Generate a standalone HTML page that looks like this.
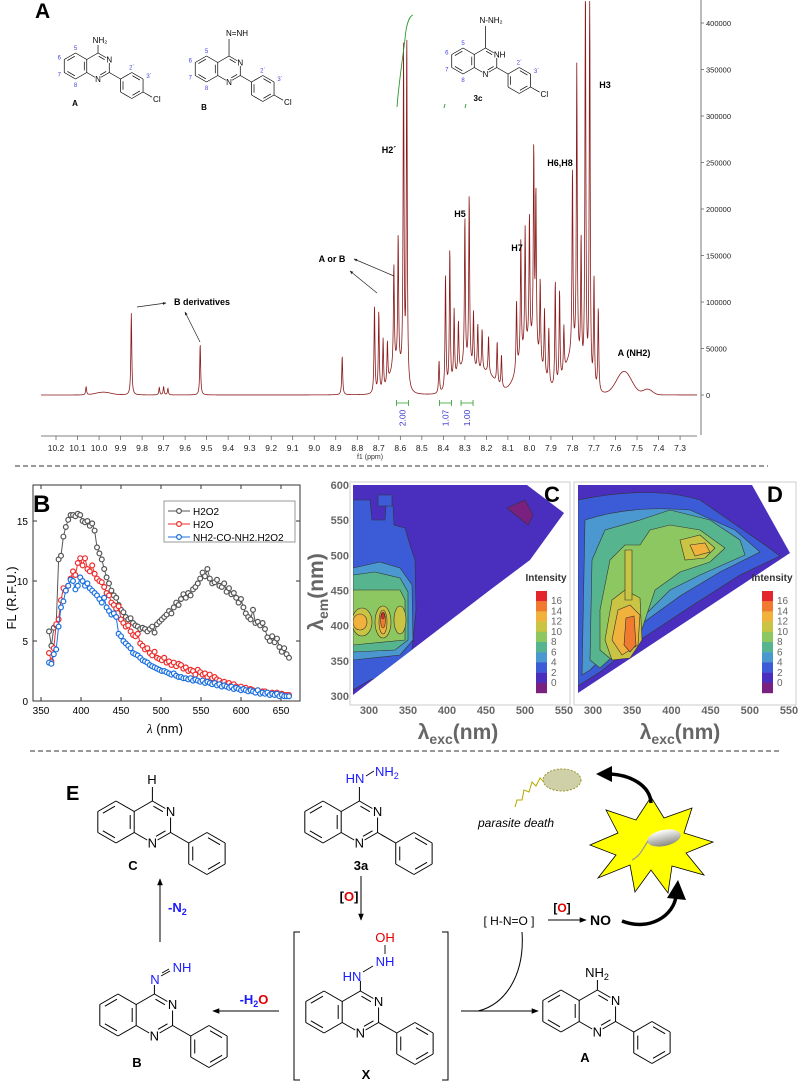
<!DOCTYPE html>
<html><head><meta charset="utf-8"><style>
html,body{margin:0;padding:0;background:#fff;}
svg{display:block;font-family:"Liberation Sans",Arial,sans-serif;}
</style></head><body>
<svg id="fig" width="798" height="1082" viewBox="0 0 798 1082" xmlns="http://www.w3.org/2000/svg">
<defs>
<clipPath id="clipC"><polygon points="353,485 527,485 564,513 530,560 490,590 353,695"/></clipPath>
<clipPath id="clipD"><polygon points="578,485 752,485 790,553 578,693"/></clipPath>
<linearGradient id="pill" x1="0" y1="0" x2="0" y2="1"><stop offset="0" stop-color="#ffffff"/><stop offset="1" stop-color="#8a8a80"/></linearGradient>
<marker id="ah" viewBox="0 0 10 10" refX="9" refY="5" markerWidth="7" markerHeight="7" orient="auto"><path d="M0,1 L10,5 L0,9 Z" fill="#000"/></marker>
<marker id="ahs" viewBox="0 0 10 10" refX="9" refY="5" markerWidth="5" markerHeight="5" orient="auto"><path d="M0,1 L10,5 L0,9 Z" fill="#222"/></marker>
</defs>

<text x="35" y="18" font-size="21" font-weight="bold">A</text>
<line x1="15" y1="466" x2="768" y2="466" stroke="#333" stroke-dasharray="5,3"/>
<line x1="30" y1="751" x2="779" y2="751" stroke="#333" stroke-dasharray="5,3"/>

<g id="nmr"></g>
<g id="structs"></g>
<g id="panelB"></g>

<g>
<rect x="350" y="482" width="220" height="223" fill="none" stroke="#ccc"/>
<g clip-path="url(#clipC)" stroke="#333" stroke-width="0.6">
<rect x="350" y="480" width="220" height="230" fill="#4a2fbf"/>
<path fill="#3c5bd6" d="M353,500 L370,500 L372,520 L385,520 L386,505 L393,505 L394,525 L405,528 L410,545 L415,560 L416,610 L412,650 L400,660 L390,675 L370,680 L353,690 Z"/>
<path fill="#3c5bd6" d="M378,495 L392,495 L392,506 L378,506 Z"/>
<path fill="#4a98cf" d="M353,568 L380,562 L400,568 L412,585 L413,640 L400,655 L353,660 Z"/>
<path fill="#56b48e" d="M353,575 L375,572 L400,578 L408,592 L408,640 L395,650 L353,652 Z"/>
<path fill="#8cc761" d="M353,590 L400,590 L405,600 L405,640 L353,645 Z"/>
<ellipse fill="#c9c443" cx="362" cy="622" rx="10" ry="14"/>
<ellipse fill="#c9c443" cx="383" cy="622" rx="8" ry="16"/>
<ellipse fill="#c9c443" cx="400" cy="620" rx="6" ry="14"/>
<ellipse fill="#f0b23d" cx="360" cy="622" rx="7" ry="8"/>
<ellipse fill="#f0b23d" cx="383" cy="622" rx="4" ry="12"/>
<ellipse fill="#f07b30" cx="383" cy="620" rx="2.5" ry="8"/>
<ellipse fill="#e3262b" cx="383" cy="616" rx="1.5" ry="3"/>
<path fill="#7a2080" d="M507,508 L525,500 L533,515 L528,525 Z"/>
</g>
<text x="552" y="502" font-size="22" font-weight="bold" text-anchor="middle">C</text>
</g>

<g>
<rect x="574" y="482" width="222" height="223" fill="none" stroke="#ccc"/>
<g clip-path="url(#clipD)" stroke="#333" stroke-width="0.6">
<rect x="570" y="480" width="230" height="230" fill="#4a2fbf"/>
<path fill="#3c5bd6" d="M578,500 Q650,485 700,500 L765,545 L780,556 L740,575 L690,607 L640,640 L600,672 L578,686 Z"/>
<path fill="#4a98cf" d="M585,520 Q630,505 690,510 L735,530 L760,552 L720,572 L680,596 L640,625 L610,650 L590,670 L582,675 Z"/>
<path fill="#56b48e" d="M592,560 L605,530 L640,520 L670,510 L710,520 L740,540 L745,555 L700,575 L670,590 L640,620 L620,650 L600,668 L590,660 Z"/>
<path fill="#8cc761" d="M600,610 L610,560 L625,545 L640,545 L650,530 L670,525 L700,530 L725,548 L710,562 L680,572 L655,590 L645,620 L635,650 L612,660 L600,650 Z"/>
<path fill="#c9c443" d="M680,540 L700,535 L715,548 L705,558 L685,560 Z"/>
<path fill="#c9c443" d="M605,640 L612,600 L625,590 L640,598 L642,640 L630,658 L612,660 Z"/>
<path fill="#c9c443" d="M625,550 L632,550 L632,600 L625,600 Z"/>
<path fill="#f0b23d" d="M690,545 L705,543 L710,552 L695,556 Z"/>
<path fill="#f0b23d" d="M612,640 L618,610 L630,605 L640,615 L638,645 L622,655 Z"/>
<path fill="#f07b30" d="M624,645 L626,618 L634,616 L636,645 L630,652 Z"/>
</g>
<text x="775" y="502" font-size="22" font-weight="bold" text-anchor="middle">D</text>
</g>
<g id="cdaxes"></g>

<g id="scheme">
<text x="66" y="800" font-size="20" font-weight="bold">E</text>
<text x="133" y="870" font-size="13" font-weight="bold" text-anchor="middle">C</text>
<text x="361" y="870" font-size="13" font-weight="bold" text-anchor="middle">3a</text>
<text x="366" y="1079" font-size="13" font-weight="bold" text-anchor="middle">X</text>
<text x="137" y="1067" font-size="13" font-weight="bold" text-anchor="middle">B</text>
<text x="585" y="1062" font-size="13" font-weight="bold" text-anchor="middle">A</text>
<text x="152" y="784" font-size="13" text-anchor="middle">H</text>
<text x="355" y="783" font-size="13" fill="#1a1aff" text-anchor="middle">HN</text>
<line x1="366" y1="776" x2="374" y2="771" stroke="#000" stroke-width="0.9"/>
<text x="375" y="776" font-size="13" fill="#1a1aff">NH<tspan font-size="9" dy="3">2</tspan></text>
<line x1="359.4" y1="801" x2="359.4" y2="787" stroke="#000" stroke-width="1"/>
<line x1="152.4" y1="801" x2="152.4" y2="787" stroke="#000" stroke-width="1"/>
<line x1="360.4" y1="991" x2="360.4" y2="981" stroke="#000" stroke-width="1"/>
<text x="352" y="981" font-size="13" fill="#1a1aff" text-anchor="middle">HN</text>
<line x1="363" y1="972" x2="373" y2="966" stroke="#000" stroke-width="0.9"/>
<text x="385" y="966" font-size="13" fill="#1a1aff" text-anchor="middle">NH</text>
<line x1="385" y1="954" x2="385" y2="945" stroke="#000" stroke-width="0.9"/>
<text x="385" y="942" font-size="13" fill="#e00000" text-anchor="middle">OH</text>
<path d="M300,932 H294 V1080 H300 M442,932 H448 V1080 H442" fill="none" stroke="#000" stroke-width="1"/>
<line x1="154.4" y1="994" x2="154.4" y2="985" stroke="#000" stroke-width="1"/>
<text x="155" y="984" font-size="13" fill="#1a1aff" text-anchor="middle">N</text>
<line x1="161" y1="976" x2="170" y2="971" stroke="#000" stroke-width="0.9"/>
<line x1="162" y1="973" x2="169" y2="969" stroke="#000" stroke-width="0.9"/>
<text x="182" y="972" font-size="13" fill="#1a1aff" text-anchor="middle">NH</text>
<line x1="597.4" y1="990" x2="597.4" y2="980" stroke="#000" stroke-width="1"/>
<text x="597" y="977" font-size="13" text-anchor="middle">NH<tspan font-size="9" dy="3">2</tspan></text>
<line x1="361" y1="876" x2="361" y2="920" stroke="#000" marker-end="url(#ah)"/>
<text x="349" y="901" font-size="13" font-weight="bold" text-anchor="middle">[<tspan fill="#e00000">O</tspan>]</text>
<line x1="279" y1="1011" x2="213" y2="1011" stroke="#000" marker-end="url(#ah)"/>
<text x="254" y="1004" font-size="13" font-weight="bold" text-anchor="middle" fill="#1a1aff">-H<tspan font-size="9" dy="3">2</tspan><tspan dy="-3" fill="#e00000">O</tspan></text>
<line x1="160" y1="942" x2="160" y2="879" stroke="#000" marker-end="url(#ah)"/>
<text x="168" y="912" font-size="13" font-weight="bold" fill="#1a1aff">-N<tspan font-size="9" dy="3">2</tspan></text>
<line x1="461" y1="1011" x2="538" y2="1011" stroke="#000" marker-end="url(#ah)"/>
<path d="M522,932 C525,975 505,1005 478,1011" fill="none" stroke="#000"/>
<text x="509" y="925" font-size="12" text-anchor="middle">[ H-N=O ]</text>
<text x="562" y="912" font-size="12" font-weight="bold" text-anchor="middle">[<tspan fill="#e00000">O</tspan>]</text>
<line x1="548" y1="920" x2="586" y2="920" stroke="#000" marker-end="url(#ah)"/>
<text x="590" y="925" font-size="14" font-weight="bold">NO</text>
<path d="M622,921 C650,932 674,915 676,896" fill="none" stroke="#000" stroke-width="3.5"/>
<path d="M667,898 L678,880 L686,900 Z" fill="#000"/>
<polygon points="651,797 664,818 692,808 684,833 713,842 686,853 704,875 672,866 668,893 651,870 635,892 630,865 598,878 616,855 590,845 618,833 606,810 636,820" fill="#ffff00" stroke="#000" stroke-width="0.8"/>
<ellipse cx="664" cy="838" rx="17" ry="8" fill="url(#pill)" transform="rotate(-12 664 838)"/>
<path d="M648,841 C642,850 640,856 632,860" fill="none" stroke="#999" stroke-width="1.2"/>
<path d="M651,803 C650,785 630,775 610,774" fill="none" stroke="#000" stroke-width="3.5"/>
<path d="M612,766 L596,774 L612,782 Z" fill="#000"/>
<ellipse cx="562" cy="780" rx="19" ry="11" fill="#cfcfa8" stroke="#9a9a30" stroke-dasharray="2,1.5"/>
<path d="M544,782 L540,778 L536,786 L532,782 L529,792 L524,790 L522,800 L517,800 L515,807" fill="none" stroke="#b5a800" stroke-width="1"/>
<text x="478" y="827" font-size="12" font-style="italic">parasite death</text>
</g>
</svg>

<script>
const NS='http://www.w3.org/2000/svg';
function mk(parent, tag, attrs, name){
  const e=document.createElementNS(NS,tag);
  for(const k in attrs) e.setAttribute(k,attrs[k]);
  
  
  parent.appendChild(e);
  return e;
}
function txt(parent, x, y, s, size, extra, name){
  const a=Object.assign({x:x,y:y,'font-size':size},extra||{});
  const e=mk(parent,'text',a,name);
  e.textContent=s;
  return e;
}
function tsp(parent, s, extra){
  const t=document.createElementNS(NS,'tspan');
  for(const k in (extra||{})) t.setAttribute(k,extra[k]);
  t.textContent=s;
  parent.appendChild(t);
  return t;
}

/* ---------------- NMR panel A ---------------- */
const nmrPeakPpm = [10.06,9.85,9.72,9.70,9.68,9.53,8.87,8.72,8.70,8.68,8.66,8.63,8.61,8.585,8.57,8.42,8.39,8.37,8.35,8.33,8.30,8.28,8.26,8.24,8.22,8.19,8.15,8.13,8.06,8.04,8.02,8.00,7.98,7.97,7.95,7.93,7.91,7.88,7.86,7.84,7.80,7.78,7.76,7.74,7.72,7.70,7.68];
const nmrPeakHeight = [9000,88000,8000,9000,7000,55000,42000,95000,88000,55000,45000,110000,140000,355000,375000,35000,125000,148000,75000,55000,160000,185000,60000,50000,45000,40000,45000,35000,75000,130000,130000,140000,215000,170000,90000,70000,60000,115000,100000,50000,200000,315000,140000,440000,440000,120000,90000];
const nmrBroadPpm = [9.98,8.62,8.30,8.20,8.00,7.80,7.56,7.45];
const nmrBroadHeight = [3000,30000,28000,22000,50000,40000,25000,6000];
const nmrBroadWidth = [0.05,0.04,0.06,0.06,0.07,0.05,0.05,0.03];
const nmrTicks = [10.2,10.1,10.0,9.9,9.8,9.7,9.6,9.5,9.4,9.3,9.2,9.1,9.0,8.9,8.8,8.7,8.6,8.5,8.4,8.3,8.2,8.1,8.0,7.9,7.8,7.7,7.6,7.5,7.4,7.3];
const nmrYTicks = [0,50000,100000,150000,200000,250000,300000,350000,400000];
const nmrIntegrals = ['2.00','1.07','1.00'];
const nmrIntegralPpm = [8.59,8.39,8.29];

(function(){
  const g=document.getElementById('nmr');
  const px=p=>56+(10.2-p)*215.2;
  const py=v=>395-v/50000*46.5;
  let d='';
  for(let p=10.27;p>=7.22;p-=0.0012){
    let v=0;
    for(let i=0;i<nmrPeakPpm.length;i++){const dx=(p-nmrPeakPpm[i])/0.0025;v+=nmrPeakHeight[i]/(1+dx*dx);}
    for(let i=0;i<nmrBroadPpm.length;i++){const dx=(p-nmrBroadPpm[i])/nmrBroadWidth[i];v+=nmrBroadHeight[i]*Math.exp(-dx*dx);}
    const y=Math.max(py(v),1);
    d+=(d?'L':'M')+px(p).toFixed(2)+','+y.toFixed(2);
  }
  mk(g,'path',{d:d,fill:'none',stroke:'#8b1a1a','stroke-width':0.8},'nmr-trace');
  mk(g,'line',{x1:41,y1:436,x2:697,y2:436,stroke:'#555','stroke-width':0.8},'nmr-x-axis');
  nmrTicks.forEach(t=>{
    mk(g,'line',{x1:px(t),y1:436,x2:px(t),y2:440,stroke:'#555','stroke-width':0.7},'nmr-x-tick');
    txt(g,px(t),451,t.toFixed(1),8.5,{'text-anchor':'middle',fill:'#222'},'nmr-x-tick-label');
  });
  txt(g,370,459,'f1 (ppm)',7,{'text-anchor':'middle',fill:'#333'},'nmr-x-axis-title');
  mk(g,'line',{x1:701,y1:0,x2:701,y2:435,stroke:'#555','stroke-width':0.8},'nmr-y-axis');
  nmrYTicks.forEach(t=>{
    mk(g,'line',{x1:701,y1:py(t),x2:704,y2:py(t),stroke:'#555','stroke-width':0.7},'nmr-y-tick');
    txt(g,706,py(t)+3,String(t),7.5,{fill:'#222'},'nmr-y-tick-label');
  });
  nmrIntegrals.forEach((s,i)=>{
    const x=px(nmrIntegralPpm[i]);
    mk(g,'path',{d:'M'+(x-6)+',403 L'+(x+6)+',403 M'+(x-6)+',400 V406 M'+(x+6)+',400 V406',stroke:'#2a9a2a',fill:'none','stroke-width':0.8},'integral-bracket');
    txt(g,0,0,s,8.5,{fill:'#3333cc','text-anchor':'middle',transform:'translate('+(x+3)+',418) rotate(-90)'},'integral-value');
  });
  mk(g,'path',{d:'M397,107 C399,80 404,50 406,30 C408,20 410,16 413,15',fill:'none',stroke:'#2a9a2a','stroke-width':0.9},'integral-curve');
  mk(g,'path',{d:'M445,104 L444,108 M466,104 L465,108',fill:'none',stroke:'#2a9a2a','stroke-width':0.9},'integral-marks');
  const lab=[['H2´',389,153],['H5',460,217],['H7',517,251],['H6,H8',560,166],['H3',605,88],['A or B',332,262],['B derivatives',202,305],['A (NH2)',634,356]];
  lab.forEach(l=>txt(g,l[1],l[2],l[0],9,{'font-weight':'bold','text-anchor':'middle'},'peak-label'));
  const arr=[[137,307,166,303],[200,342,185,312],[377,293,350,271],[394,276,354,259]];
  arr.forEach(a=>mk(g,'line',{x1:a[0],y1:a[1],x2:a[2],y2:a[3],stroke:'#222','stroke-width':0.7,'marker-end':'url(#ahs)'},'annotation-arrow'));
})();

/* ---------------- Chemical structures ---------------- */
function quin(cx,cy,b,opt){
  const g=document.getElementById('structs');
  const s3=Math.sqrt(3);
  const hex=(x,y)=>{const v=[];for(let k=0;k<6;k++){const t=(-90+60*k)*Math.PI/180;v.push([x+b*Math.cos(t),y+b*Math.sin(t)]);}return v;};
  const B=hex(cx,cy), P=hex(cx+s3*b,cy);
  const ipso=[P[2][0]+b*s3/2,P[2][1]+b/2];
  const pc=[ipso[0]+b*s3/2,ipso[1]+b/2];
  const F=hex(pc[0],pc[1]);
  const sw=opt.sw||1;
  const line=(a,c,sa,sc)=>{
    const dx=c[0]-a[0],dy=c[1]-a[1],L=Math.hypot(dx,dy);
    const x1=a[0]+dx/L*(sa||0),y1=a[1]+dy/L*(sa||0),x2=c[0]-dx/L*(sc||0),y2=c[1]-dy/L*(sc||0);
    mk(g,'line',{x1:x1,y1:y1,x2:x2,y2:y2,stroke:'#000','stroke-width':sw},'bond');
  };
  const inner=(a,c,ctr,sa,sc)=>{
    const f=0.78;
    let p=[ctr[0]+(a[0]-ctr[0])*f,ctr[1]+(a[1]-ctr[1])*f],q=[ctr[0]+(c[0]-ctr[0])*f,ctr[1]+(c[1]-ctr[1])*f];
    const m=[(p[0]+q[0])/2,(p[1]+q[1])/2];
    p=[m[0]+(p[0]-m[0])*0.85,m[1]+(p[1]-m[1])*0.85];q=[m[0]+(q[0]-m[0])*0.85,m[1]+(q[1]-m[1])*0.85];
    line(p,q,sa||0,sc||0);
  };
  const gap=opt.gap;
  for(let k=0;k<6;k++) line(B[k],B[(k+1)%6]);
  [[3,4],[5,0],[1,2]].forEach(e=>inner(B[e[0]],B[e[1]],[cx,cy]));
  const Pc=[cx+s3*b,cy];
  line(P[5],P[0]);
  line(P[0],P[1],0,gap); line(P[1],P[2],gap,0); line(P[2],P[3],0,gap); line(P[3],P[4],gap,0);
  inner(P[0],P[1],Pc,0,gap*0.5); inner(P[2],P[3],Pc,0,gap*0.5);
  line(P[2],ipso);
  for(let k=0;k<6;k++) line(F[k],F[(k+1)%6]);
  [[0,1],[2,3],[4,5]].forEach(e=>inner(F[e[0]],F[e[1]],pc));
  txt(g,P[1][0]-(opt.n3?opt.fs*0.36:0),P[1][1]+opt.fs*0.36,opt.n3||'N',opt.fs,{'text-anchor':opt.n3?'start':'middle'},'atom-n3');
  txt(g,P[3][0],P[3][1]+opt.fs*0.36,'N',opt.fs,{'text-anchor':'middle'},'atom-n1');
  if(opt.cl){
    const c2=[F[2][0]+b*s3/2*0.8,F[2][1]+b/2*0.8];
    line(F[2],c2,0,0);
    txt(g,c2[0]+1,c2[1]+opt.fs*0.6,'Cl',opt.fs,{},'atom-cl');
  }
  if(opt.nums){
    const st={fill:'#4444dd','text-anchor':'middle'};
    txt(g,B[0][0],B[0][1]-3,'5',6,st,'atom-number');
    txt(g,B[5][0]-5,B[5][1],'6',6,st,'atom-number');
    txt(g,B[4][0]-5,B[4][1]+4,'7',6,st,'atom-number');
    txt(g,B[3][0],B[3][1]+8,'8',6,st,'atom-number');
    txt(g,F[0][0],F[0][1]-3,'2´',6,st,'atom-number');
    txt(g,F[1][0]+6,F[1][1]-1,'3´',6,st,'atom-number');
  }
  return {C4:P[0]};
}
(function(){
  const g=document.getElementById('structs');
  let r=quin(75.5,66,13,{fs:8,gap:3.5,sw:0.7,cl:true,nums:true});
  mk(g,'line',{x1:r.C4[0],y1:r.C4[1],x2:r.C4[0],y2:r.C4[1]-8,stroke:'#000','stroke-width':0.7},'bond');
  txt(g,r.C4[0]+2,r.C4[1]-10,'NH₂',8,{'text-anchor':'middle'},'amine-label');
  txt(g,75,106,'A',8,{'font-weight':'bold','text-anchor':'middle'},'structure-a-label');
  r=quin(206.5,69,13,{fs:8,gap:3.5,sw:0.7,cl:true,nums:true});
  mk(g,'line',{x1:r.C4[0],y1:r.C4[1],x2:r.C4[0],y2:r.C4[1]-17,stroke:'#000','stroke-width':0.7},'bond');
  txt(g,r.C4[0]-3,r.C4[1]-20,'N=NH',8,{},'diazene-label');
  txt(g,204,110,'B',8,{'font-weight':'bold','text-anchor':'middle'},'structure-b-label');
  r=quin(463,61,13,{fs:8,gap:3.5,sw:0.7,cl:true,nums:true,n3:'NH'});
  mk(g,'line',{x1:r.C4[0],y1:r.C4[1],x2:r.C4[0],y2:r.C4[1]-22,stroke:'#000','stroke-width':0.7},'bond');
  txt(g,r.C4[0]-6,r.C4[1]-25,'N-NH₂',8,{},'hydrazone-label');
  txt(g,478,101,'3c',8,{'font-weight':'bold','text-anchor':'middle'},'structure-3c-label');
  quin(116,822,21,{fs:13,gap:6,sw:1});
  quin(323,822,21,{fs:13,gap:6,sw:1});
  quin(324,1012,21,{fs:13,gap:6,sw:1});
  quin(118,1015,21,{fs:13,gap:6,sw:1});
  quin(561,1011,21,{fs:13,gap:6,sw:1});
})();

/* ---------------- Panel B ---------------- */
const wavelengths = [];
for(let w=360; w<=660; w+=3) wavelengths.push(w);
const seriesH2O2 = [5.8,4.6,6.1,6.3,11.8,12.1,13.7,14.5,15.1,15.5,15.5,15.4,15.6,15.5,15.0,14.9,15.0,14.6,14.8,14.2,12.8,12.3,11.8,11.0,10.3,9.8,9.2,8.8,8.6,8.0,7.6,7.4,7.0,6.8,6.9,6.5,6.3,6.2,6.0,6.1,6.0,5.8,6.0,6.2,5.7,6.4,6.6,6.8,7.0,7.2,7.5,7.3,7.8,8.2,8.0,8.5,8.9,8.6,9.0,8.8,9.3,9.5,9.8,10.2,10.7,10.4,11.0,10.2,9.8,9.9,10.1,9.6,9.5,9.8,9.1,9.4,8.9,9.0,8.6,8.2,8.5,7.8,7.3,7.0,6.8,7.6,6.5,6.6,6.3,6.5,6.0,5.3,5.0,5.4,4.9,5.2,4.5,4.1,4.4,3.9,3.6];
const seriesH2O = [4.0,3.3,4.4,6.4,6.8,8.4,9.4,9.2,9.6,10.2,10.8,10.5,11.5,11.9,11.3,11.9,11.0,10.8,11.3,10.6,10.2,10.0,9.9,9.5,9.0,8.8,8.2,8.0,7.7,7.9,6.8,6.5,6.2,6.3,5.8,5.5,5.4,5.6,4.8,4.6,4.3,4.4,4.0,3.8,4.1,3.6,3.5,3.4,3.6,3.2,3.3,3.0,3.2,2.9,3.1,3.0,2.7,2.8,2.5,2.6,2.5,2.2,2.6,2.4,2.2,2.3,2.0,2.2,1.9,2.0,1.8,1.7,1.5,1.6,1.4,1.5,1.3,1.4,1.2,1.1,1.2,1.0,1.1,0.9,1.0,0.9,0.8,0.9,0.7,0.8,0.8,0.7,0.6,0.7,0.6,0.7,0.5,0.6,0.5,0.5,0.5];
const seriesUrea = [3.2,3.1,3.9,4.3,6.2,7.8,8.3,9.2,9.6,10.1,10.0,9.3,9.6,10.3,10.0,9.6,9.8,9.4,9.2,9.0,8.8,8.5,8.2,8.6,7.8,7.5,7.2,7.3,7.0,5.6,5.4,5.0,4.8,4.6,4.4,4.0,3.9,3.8,3.6,3.4,3.3,3.2,3.0,2.9,2.8,2.7,2.6,2.5,2.5,2.4,2.3,2.2,2.3,2.1,2.0,2.0,1.9,1.9,1.8,1.9,1.7,1.8,1.7,1.6,1.7,1.5,1.6,1.5,1.4,1.5,1.3,1.4,1.2,1.3,1.2,1.1,1.2,1.0,1.1,1.0,0.9,1.0,0.9,0.8,0.9,0.8,0.7,0.9,0.6,0.7,0.6,0.7,0.5,0.6,0.5,0.6,0.4,0.5,0.4,0.4,0.4];
const seriesNames = ['H2O2','H2O','NH2-CO-NH2.H2O2'];
const seriesColors = ['#555555','#ee2a2a','#1a6fe0'];
const bXTicks = [350,400,450,500,550,600,650];
const bYTicks = [0,5,10,15];

(function(){
  const g=document.getElementById('panelB');
  const x=w=>41+(w-350)*0.8, y=v=>701-v*12;
  mk(g,'rect',{x:33,y:485,width:267,height:216,fill:'none',stroke:'#333','stroke-width':1},'plot-frame');
  bXTicks.forEach(t=>{
    mk(g,'line',{x1:x(t),y1:701,x2:x(t),y2:697,stroke:'#333'},'x-tick');
    mk(g,'line',{x1:x(t),y1:485,x2:x(t),y2:489,stroke:'#333'},'x-tick-top');
    txt(g,x(t),714,String(t),10,{'text-anchor':'middle'},'x-tick-label');
  });
  bYTicks.forEach(t=>{
    mk(g,'line',{x1:33,y1:y(t),x2:37,y2:y(t),stroke:'#333'},'y-tick');
    mk(g,'line',{x1:300,y1:y(t),x2:296,y2:y(t),stroke:'#333'},'y-tick-right');
    txt(g,28,y(t)+4,String(t),10,{'text-anchor':'end'},'y-tick-label');
  });
  const xt=txt(g,165,733,'',13,{'text-anchor':'middle'},'x-axis-title');
  tsp(xt,'λ',{'font-style':'italic','font-family':'Liberation Serif, serif'});
  tsp(xt,' (nm)');
  txt(g,0,0,'FL (R.F.U.)',13,{'text-anchor':'middle',transform:'translate(16,598) rotate(-90)'},'y-axis-title');
  [seriesH2O2,seriesH2O,seriesUrea].forEach((s,i)=>{
    const d=s.map((v,j)=>(j?'L':'M')+x(wavelengths[j]).toFixed(1)+','+y(v).toFixed(1)).join('');
    mk(g,'path',{d:d,fill:'none',stroke:seriesColors[i],'stroke-width':1},'series-line-'+i);
    s.forEach((v,j)=>{
      mk(g,'circle',{cx:x(wavelengths[j]),cy:y(v),r:2.4,fill:'#fff',stroke:seriesColors[i],'stroke-width':1.2},'series-point');
    });
  });
  txt(g,33,512,'B',24,{'font-weight':'bold'},'panel-b-label');
  mk(g,'rect',{x:164,y:501,width:131,height:41,fill:'#fff',stroke:'#999'},'legend-box');
  seriesNames.forEach((n,i)=>{
    const yy=511+i*13;
    mk(g,'line',{x1:168,y1:yy,x2:190,y2:yy,stroke:seriesColors[i]},'legend-line');
    mk(g,'circle',{cx:179,cy:yy,r:2.4,fill:'#fff',stroke:seriesColors[i],'stroke-width':1.2},'legend-marker');
    txt(g,193,yy+4,n,10,{},'legend-entry');
  });
})();

/* ---------------- Contour axes / legends ---------------- */
const emTicks=[300,350,400,450,500,550,600];
const excTicks=[300,350,400,450,500,550];
const levelLabels=[16,14,12,10,8,6,4,2,0];
const levelColors=['#e3262b','#f07b30','#f0b23d','#c9c443','#8cc761','#56b48e','#4a98cf','#3c5bd6','#4a2fbf','#7a2080'];
(function(){
  const g=document.getElementById('cdaxes');
  const ey=v=>696-(v-300)*0.7033;
  emTicks.forEach(t=>txt(g,349,ey(t)+4,String(t),11,{'text-anchor':'end',fill:'#666','font-weight':'bold'},'y-tick-label'));
  const xc=v=>369+(v-300)*0.78, xd=v=>593+(v-300)*0.784;
  excTicks.forEach(t=>{
    txt(g,xc(t),714,String(t),11,{'text-anchor':'middle',fill:'#666','font-weight':'bold'},'x-tick-label-c');
    txt(g,xd(t),714,String(t),11,{'text-anchor':'middle',fill:'#666','font-weight':'bold'},'x-tick-label-d');
  });
  [[458,'c'],[680,'d']].forEach(a=>{
    const t=txt(g,a[0],739,'',21,{'text-anchor':'middle',fill:'#666','font-weight':'bold'},'x-axis-title-'+a[1]);
    tsp(t,'λ'); tsp(t,'exc',{'font-size':14,dy:5}); tsp(t,'(nm)',{dy:-5});
  });
  const ty=txt(g,0,0,'',21,{'text-anchor':'middle',fill:'#666','font-weight':'bold',transform:'translate(323,592) rotate(-90)'},'y-axis-title');
  tsp(ty,'λ'); tsp(ty,'em',{'font-size':14,dy:5}); tsp(ty,'(nm)',{dy:-5});
  [[536,528,551],[762,754,777]].forEach(p=>{
    txt(g,p[1]+18,581,'Intensity',10,{'text-anchor':'middle','font-weight':'bold',fill:'#333'},'colorbar-title');
    levelColors.forEach((c,i)=>mk(g,'rect',{x:p[0],y:591+i*10.2,width:11,height:10.4,fill:c},'colorbar-swatch'));
    levelLabels.forEach((l,i)=>txt(g,p[2],601+i*10.25+3,String(l),10,{fill:'#666'},'colorbar-label'));
  });
})();
</script>
</body></html>
